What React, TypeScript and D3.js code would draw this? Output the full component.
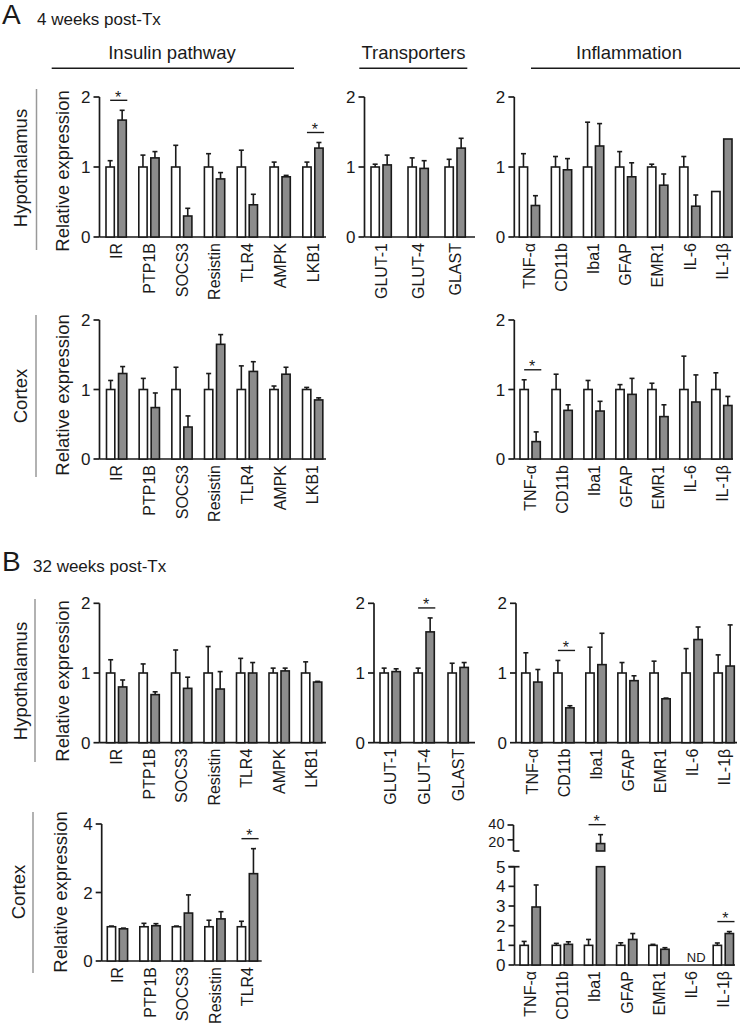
import React from "react";
import * as d3 from "d3";

// ---------- data ----------
const insulinGenes = ["IR", "PTP1B", "SOCS3", "Resistin", "TLR4", "AMPK", "LKB1"];
const insulinGenesShort = ["IR", "PTP1B", "SOCS3", "Resistin", "TLR4"];
const transporterGenes = ["GLUT-1", "GLUT-4", "GLAST"];
const inflammationGenes = ["TNF-α", "CD11b", "Iba1", "GFAP", "EMR1", "IL-6", "IL-1β"];

// A: 4 weeks, hypothalamus
const aHypInsCtrl = [1, 1, 1, 1, 1, 1, 1];
const aHypInsCtrlErr = [0.09, 0.17, 0.31, 0.19, 0.24, 0.07, 0.07];
const aHypInsTx = [1.67, 1.13, 0.3, 0.83, 0.46, 0.86, 1.27];
const aHypInsTxErr = [0.14, 0.09, 0.11, 0.09, 0.15, 0.02, 0.08];
const aHypInsSig = ["IR", "LKB1"];

const aHypTrCtrl = [1, 1, 1];
const aHypTrCtrlErr = [0.04, 0.13, 0.11];
const aHypTrTx = [1.03, 0.98, 1.27];
const aHypTrTxErr = [0.14, 0.11, 0.14];

const aHypInfCtrl = [1, 1, 1, 1, 1, 1, 0.65];
const aHypInfCtrlErr = [0.19, 0.15, 0.64, 0.22, 0.04, 0.15, 0];
const aHypInfTx = [0.45, 0.96, 1.3, 0.86, 0.74, 0.44, 1.4];
const aHypInfTxErr = [0.14, 0.16, 0.32, 0.2, 0.16, 0.16, 0];

// A: 4 weeks, cortex
const aCtxInsCtrl = [1, 1, 1, 1, 1, 1, 1];
const aCtxInsCtrlErr = [0.13, 0.16, 0.32, 0.23, 0.34, 0.05, 0.03];
const aCtxInsTx = [1.23, 0.74, 0.46, 1.65, 1.26, 1.22, 0.85];
const aCtxInsTxErr = [0.1, 0.21, 0.16, 0.14, 0.14, 0.1, 0.03];

const aCtxInfCtrl = [1, 1, 1, 1, 1, 1, 1];
const aCtxInfCtrlErr = [0.14, 0.22, 0.13, 0.07, 0.09, 0.48, 0.24];
const aCtxInfTx = [0.25, 0.7, 0.69, 0.93, 0.61, 0.82, 0.77];
const aCtxInfTxErr = [0.14, 0.08, 0.14, 0.23, 0.17, 0.39, 0.13];
const aCtxInfSig = ["TNF-α"];

// B: 32 weeks, hypothalamus
const bHypInsCtrl = [1, 1, 1, 1, 1, 1, 1];
const bHypInsCtrlErr = [0.19, 0.13, 0.33, 0.38, 0.21, 0.07, 0.16];
const bHypInsTx = [0.8, 0.69, 0.78, 0.77, 1.0, 1.03, 0.87];
const bHypInsTxErr = [0.1, 0.04, 0.16, 0.25, 0.15, 0.04, 0.01];

const bHypTrCtrl = [1, 1, 1];
const bHypTrCtrlErr = [0.07, 0.07, 0.14];
const bHypTrTx = [1.02, 1.59, 1.08];
const bHypTrTxErr = [0.04, 0.2, 0.07];
const bHypTrSig = ["GLUT-4"];

const bHypInfCtrl = [1, 1, 1, 1, 1, 1, 1];
const bHypInfCtrlErr = [0.29, 0.18, 0.37, 0.15, 0.17, 0.35, 0.26];
const bHypInfTx = [0.87, 0.5, 1.12, 0.89, 0.63, 1.48, 1.1];
const bHypInfTxErr = [0.18, 0.03, 0.45, 0.07, 0.01, 0.18, 0.59];
const bHypInfSig = ["CD11b"];

// B: 32 weeks, cortex
const bCtxInsCtrl = [1, 1, 1, 1, 1];
const bCtxInsCtrlErr = [0.02, 0.1, 0.02, 0.19, 0.16];
const bCtxInsTx = [0.94, 1.03, 1.4, 1.23, 2.55];
const bCtxInsTxErr = [0.02, 0.06, 0.53, 0.21, 0.73];
const bCtxInsSig = ["TLR4"];

const bCtxInfCtrl = [1, 1, 1, 1, 1, null, 1];
const bCtxInfCtrlErr = [0.2, 0.1, 0.3, 0.13, 0.05, null, 0.12];
const bCtxInfTx = [2.95, 1.05, 15, 1.3, 0.8, null, 1.6];
const bCtxInfTxErr = [1.12, 0.13, 12, 0.3, 0.08, null, 0.1];
const bCtxInfSig = ["Iba1", "IL-1β"];

const ticks2 = [0, 1, 2];
const ticks4 = [0, 2, 4];
const ticksLow = [0, 1, 2, 3, 4, 5];
const ticksHigh = [20, 40];

// ---------- style ----------
const FONT = "'Liberation Sans', Arial, Helvetica, sans-serif";
const INK = "#1a1a1a";
const GRAY = "#8c8c8c";
const BAR_W = 8.3;
const GAP = 3.7;
const PAIR_W = BAR_W * 2 + GAP;
const CAP_W = 5;

type Spec = {
  genes: string[];
  ctrl: (number | null)[];
  ctrlErr: (number | null)[];
  tx: (number | null)[];
  txErr: (number | null)[];
  sig: string[];
  axisX: number;
  firstLeft: number;
  step: number;
  axisEnd: number;
  yTop: number;
  yBase: number;
  yMax: number;
  ticks: number[];
  brk?: {
    lowMax: number;
    lowTop: number;
    highMin: number;
    highMax: number;
    highBottom: number;
    highTop: number;
    highTicks: number[];
  };
  nd?: string[];
};

function Panel({ s }: { s: Spec }) {
  const pad = (s.step - PAIR_W) / 2;
  const x0 = s.firstLeft - pad;
  const x = d3
    .scaleBand<string>()
    .domain(s.genes)
    .range([x0, x0 + s.step * s.genes.length])
    .paddingInner(0)
    .paddingOuter(0);

  const yLow = s.brk
    ? d3.scaleLinear().domain([0, s.brk.lowMax]).range([s.yBase, s.brk.lowTop])
    : d3.scaleLinear().domain([0, s.yMax]).range([s.yBase, s.yTop]);
  const yHigh = s.brk
    ? d3.scaleLinear().domain([s.brk.highMin, s.brk.highMax]).range([s.brk.highBottom, s.brk.highTop])
    : null;
  const yPos = (v: number) => (s.brk && v > s.brk.lowMax && yHigh ? yHigh(v) : yLow(v));

  const bars: React.ReactNode[] = [];
  s.genes.forEach((g, i) => {
    const left = (x(g) as number) + pad;
    const series = [
      { v: s.ctrl[i], e: s.ctrlErr[i], fill: "#ffffff", bx: left },
      { v: s.tx[i], e: s.txErr[i], fill: GRAY, bx: left + BAR_W + GAP },
    ];
    series.forEach((b, j) => {
      if (b.v == null) return;
      const v = b.v as number;
      const cx = b.bx + BAR_W / 2;
      if (s.brk && yHigh && v > s.brk.lowMax) {
        bars.push(
          <rect key={`${g}-${j}-lo`} x={b.bx} y={s.brk.lowTop} width={BAR_W}
            height={s.yBase - s.brk.lowTop} fill={b.fill} stroke={INK} strokeWidth={1.6} />
        );
        bars.push(
          <rect key={`${g}-${j}-hi`} x={b.bx} y={yHigh(v)} width={BAR_W}
            height={s.brk.highBottom - yHigh(v)} fill={b.fill} stroke={INK} strokeWidth={1.6} />
        );
      } else {
        bars.push(
          <rect key={`${g}-${j}`} x={b.bx} y={yLow(v)} width={BAR_W}
            height={s.yBase - yLow(v)} fill={b.fill} stroke={INK} strokeWidth={1.6} />
        );
      }
      if (b.e && (b.e as number) > 0) {
        const yt = yPos(v + (b.e as number));
        bars.push(
          <g key={`${g}-${j}-err`} stroke={INK} strokeWidth={1.6}>
            <line x1={cx} x2={cx} y1={yPos(v)} y2={yt} />
            <line x1={cx - CAP_W / 2} x2={cx + CAP_W / 2} y1={yt} y2={yt} />
          </g>
        );
      }
    });
    if (s.sig.includes(g)) {
      const tops = [
        (s.ctrl[i] ?? 0) + (s.ctrlErr[i] ?? 0),
        (s.tx[i] ?? 0) + (s.txErr[i] ?? 0),
      ];
      const ly = yPos(Math.max(...tops)) - 10;
      const lx1 = left + BAR_W / 2;
      const lx2 = left + PAIR_W + 1;
      bars.push(
        <g key={`${g}-sig`}>
          <line x1={lx1} x2={lx2} y1={ly} y2={ly} stroke={INK} strokeWidth={1.4} />
          <text x={left + PAIR_W / 2 + 2} y={ly + 2.5} fontSize={16} textAnchor="middle"
            fontFamily={FONT} fill={INK}>*</text>
        </g>
      );
    }
    if (s.nd && s.nd.includes(g)) {
      bars.push(
        <text key={`${g}-nd`} x={left + PAIR_W / 2 + 5} y={s.yBase - 3} fontSize={13}
          textAnchor="middle" fontFamily={FONT} fill={INK}>ND</text>
      );
    }
  });

  const tickLen = 6;
  return (
    <g>
      {s.brk && yHigh ? (
        <g stroke={INK} strokeWidth={1.7} fill="none">
          <line x1={s.axisX} x2={s.axisX} y1={s.yBase} y2={s.brk.lowTop} />
          <line x1={s.axisX - tickLen} x2={s.axisX + 5} y1={s.brk.lowTop} y2={s.brk.lowTop} />
          <line x1={s.axisX - 1} x2={s.axisX - 1} y1={s.brk.highBottom} y2={s.brk.highTop} />
          <line x1={s.axisX - 1} x2={s.axisX + 5} y1={s.brk.highBottom} y2={s.brk.highBottom} />
        </g>
      ) : (
        <line x1={s.axisX} x2={s.axisX} y1={s.yBase} y2={s.yTop} stroke={INK} strokeWidth={1.7} />
      )}
      {s.ticks.map((t) => (
        <g key={`t${t}`}>
          <line x1={s.axisX - tickLen} x2={s.axisX} y1={yLow(t)} y2={yLow(t)} stroke={INK} strokeWidth={1.7} />
          <text x={s.axisX - 9} y={yLow(t)} dy="0.36em" textAnchor="end" fontSize={17}
            fontFamily={FONT} fill={INK}>{t}</text>
        </g>
      ))}
      {s.brk && yHigh &&
        s.brk.highTicks.map((t, k) => (
          <g key={`h${t}`}>
            <line x1={s.axisX - 1 - tickLen} x2={s.axisX - 1} y1={yHigh(t)} y2={yHigh(t)} stroke={INK} strokeWidth={1.7} />
            <text x={s.axisX - 10} y={yHigh(t) + (k === 0 ? 1.5 : -1)} dy="0.36em" textAnchor="end" fontSize={14.5}
              fontFamily={FONT} fill={INK}>{t}</text>
          </g>
        ))}
      <line x1={s.axisX} x2={s.axisEnd} y1={s.yBase} y2={s.yBase} stroke={INK} strokeWidth={1.7} />
      {bars}
      {s.genes.map((g) => {
        const cx = (x(g) as number) + s.step / 2;
        return (
          <text key={`l${g}`} transform={`translate(${cx},${s.yBase + 6}) rotate(-90)`}
            dy="0.36em" textAnchor="end" fontSize={16} fontFamily={FONT} fill={INK}>{g}</text>
        );
      })}
    </g>
  );
}

const panels: Spec[] = [
  { genes: insulinGenes, ctrl: aHypInsCtrl, ctrlErr: aHypInsCtrlErr, tx: aHypInsTx, txErr: aHypInsTxErr, sig: aHypInsSig,
    axisX: 99.5, firstLeft: 106, step: 32.8, axisEnd: 326, yTop: 97, yBase: 237, yMax: 2, ticks: ticks2 },
  { genes: transporterGenes, ctrl: aHypTrCtrl, ctrlErr: aHypTrCtrlErr, tx: aHypTrTx, txErr: aHypTrTxErr, sig: [],
    axisX: 364.5, firstLeft: 371, step: 37, axisEnd: 475, yTop: 97, yBase: 237, yMax: 2, ticks: ticks2 },
  { genes: inflammationGenes, ctrl: aHypInfCtrl, ctrlErr: aHypInfCtrlErr, tx: aHypInfTx, txErr: aHypInfTxErr, sig: [],
    axisX: 514.3, firstLeft: 519.3, step: 32.07, axisEnd: 733, yTop: 97, yBase: 237, yMax: 2, ticks: ticks2 },
  { genes: insulinGenes, ctrl: aCtxInsCtrl, ctrlErr: aCtxInsCtrlErr, tx: aCtxInsTx, txErr: aCtxInsTxErr, sig: [],
    axisX: 99.5, firstLeft: 106.5, step: 32.67, axisEnd: 326, yTop: 320, yBase: 459, yMax: 2, ticks: ticks2 },
  { genes: inflammationGenes, ctrl: aCtxInfCtrl, ctrlErr: aCtxInfCtrlErr, tx: aCtxInfTx, txErr: aCtxInfTxErr, sig: aCtxInfSig,
    axisX: 514.3, firstLeft: 520, step: 31.95, axisEnd: 733, yTop: 320, yBase: 459, yMax: 2, ticks: ticks2 },
  { genes: insulinGenes, ctrl: bHypInsCtrl, ctrlErr: bHypInsCtrlErr, tx: bHypInsTx, txErr: bHypInsTxErr, sig: [],
    axisX: 99.5, firstLeft: 106.5, step: 32.5, axisEnd: 326, yTop: 603.3, yBase: 742.7, yMax: 2, ticks: ticks2 },
  { genes: transporterGenes, ctrl: bHypTrCtrl, ctrlErr: bHypTrCtrlErr, tx: bHypTrTx, txErr: bHypTrTxErr, sig: bHypTrSig,
    axisX: 374, firstLeft: 380, step: 34, axisEnd: 475, yTop: 603.3, yBase: 742.7, yMax: 2, ticks: ticks2 },
  { genes: inflammationGenes, ctrl: bHypInfCtrl, ctrlErr: bHypInfCtrlErr, tx: bHypInfTx, txErr: bHypInfTxErr, sig: bHypInfSig,
    axisX: 516, firstLeft: 521.7, step: 32.05, axisEnd: 737, yTop: 603.3, yBase: 742.7, yMax: 2, ticks: ticks2 },
  { genes: insulinGenesShort, ctrl: bCtxInsCtrl, ctrlErr: bCtxInsCtrlErr, tx: bCtxInsTx, txErr: bCtxInsTxErr, sig: bCtxInsSig,
    axisX: 101.7, firstLeft: 107.3, step: 32.5, axisEnd: 261.7, yTop: 824, yBase: 961, yMax: 4, ticks: ticks4 },
  { genes: inflammationGenes, ctrl: bCtxInfCtrl, ctrlErr: bCtxInfCtrlErr, tx: bCtxInfTx, txErr: bCtxInfTxErr, sig: bCtxInfSig,
    axisX: 514.5, firstLeft: 520, step: 32.2, axisEnd: 735, yTop: 866.7, yBase: 965, yMax: 5, ticks: ticksLow,
    brk: { lowMax: 5, lowTop: 866.7, highMin: 5, highMax: 40, highBottom: 851, highTop: 825, highTicks: ticksHigh },
    nd: ["IL-6"] },
];

const rowLabels = [
  { text: "Hypothalamus", x: 20, y: 168, lx: 36.5, ly1: 89, ly2: 250, rx: 62, ry: 171 },
  { text: "Cortex", x: 20, y: 396, lx: 36, ly1: 315, ly2: 477, rx: 62, ry: 395 },
  { text: "Hypothalamus", x: 20, y: 681, lx: 35, ly1: 599, ly2: 762, rx: 62, ry: 681 },
  { text: "Cortex", x: 18, y: 892, lx: 33, ly1: 812, ly2: 973, rx: 60, ry: 892 },
];

const headers = [
  { text: "Insulin pathway", x: 172, x1: 51.7, x2: 294 },
  { text: "Transporters", x: 413.5, x1: 359.3, x2: 467.3 },
  { text: "Inflammation", x: 629, x1: 531, x2: 740 },
];

export default function App() {
  return (
    <svg width={740} height={1027} viewBox="0 0 740 1027"
      style={{ position: "absolute", left: 0, top: 0, background: "#fff" }}>
      <rect width={740} height={1027} fill="#fff" />
      <text x={2} y={24} fontSize={28} fontFamily={FONT} fill={INK}>A</text>
      <text x={37} y={25} fontSize={17} fontFamily={FONT} fill={INK}>4 weeks post-Tx</text>
      <text x={2} y={571} fontSize={28} fontFamily={FONT} fill={INK}>B</text>
      <text x={33} y={572} fontSize={17} fontFamily={FONT} fill={INK}>32 weeks post-Tx</text>

      {headers.map((h) => (
        <g key={h.text}>
          <text x={h.x} y={59} textAnchor="middle" fontSize={18.5} fontFamily={FONT} fill={INK}>{h.text}</text>
          <line x1={h.x1} x2={h.x2} y1={68.3} y2={68.3} stroke={INK} strokeWidth={1.4} />
        </g>
      ))}

      {rowLabels.map((r, i) => (
        <g key={`row${i}`}>
          <text transform={`translate(${r.x},${r.y}) rotate(-90)`} dy="0.36em" textAnchor="middle"
            fontSize={18.5} fontFamily={FONT} fill={INK}>{r.text}</text>
          <line x1={r.lx} x2={r.lx} y1={r.ly1} y2={r.ly2} stroke="#999" strokeWidth={1.5} />
          <text transform={`translate(${r.rx},${r.ry}) rotate(-90)`} dy="0.36em" textAnchor="middle"
            fontSize={18.5} fontFamily={FONT} fill={INK}>Relative expression</text>
        </g>
      ))}

      {panels.map((p, i) => (
        <Panel key={i} s={p} />
      ))}
    </svg>
  );
}
